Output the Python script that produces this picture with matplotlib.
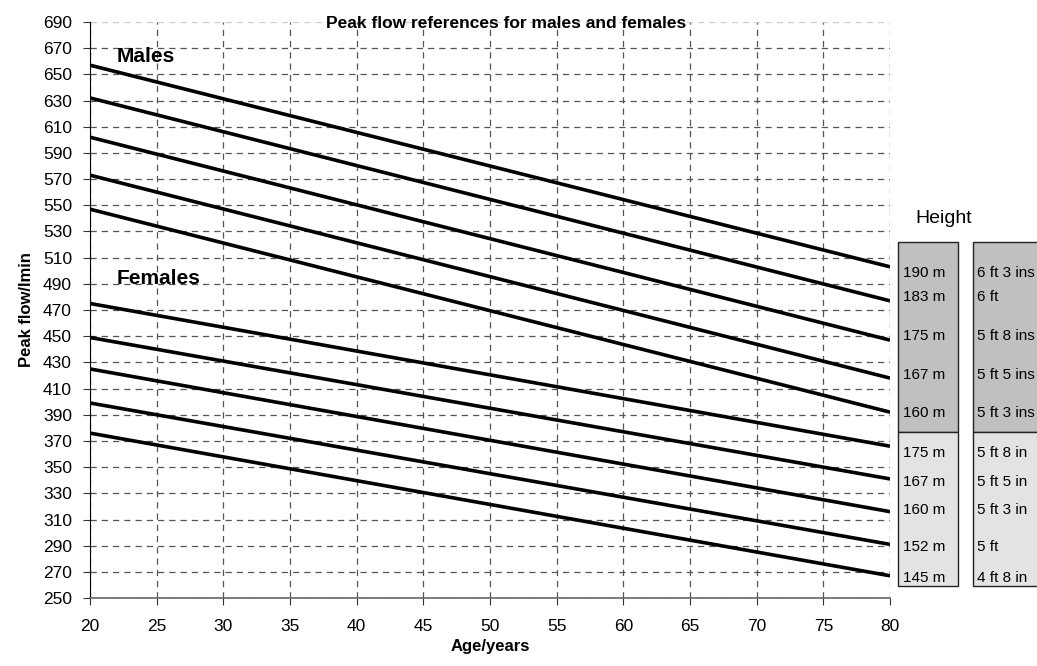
import matplotlib
matplotlib.use("Agg")
import matplotlib.pyplot as plt
from matplotlib.patches import Rectangle

# Age range the reference lines span
ages = [20, 80]

# Peak flow (l/min) at age 20 and at age 80 for each height
male_start = [657, 632, 602, 573, 547]
male_end = [503, 477, 447, 418, 392]
female_start = [475, 449, 425, 399, 376]
female_end = [366, 341, 316, 291, 267]

male_metric = ["190 m", "183 m", "175 m", "167 m", "160 m"]
male_imperial = ["6 ft 3 ins", "6 ft", "5 ft 8 ins", "5 ft 5 ins", "5 ft 3 ins"]
female_metric = ["175 m", "167 m", "160 m", "152 m", "145 m"]
female_imperial = ["5 ft 8 in", "5 ft 5 in", "5 ft 3 in", "5 ft", "4 ft 8 in"]

x_ticks = list(range(20, 81, 5))
y_ticks = list(range(250, 691, 20))

plt.rcParams.update({"font.family": ["Liberation Sans", "DejaVu Sans"]})

fig = plt.figure(figsize=(10.37, 6.66), dpi=100)
ax = fig.add_axes([0.0868, 0.102, 0.7715, 0.865])

for s, e in zip(male_start + female_start, male_end + female_end):
    ax.plot(ages, [s, e], color="black", linewidth=2.6, solid_capstyle="butt", zorder=3)

ax.set_xlim(20, 80)
ax.set_ylim(250, 690)
ax.set_xticks(x_ticks)
ax.set_yticks(y_ticks)
ax.tick_params(labelsize=12.5, length=5, direction="out", color="#333333")
ax.tick_params(axis="x", pad=10)
ax.tick_params(axis="y", pad=8)
ax.grid(True, linestyle=(0, (5, 4)), color="#555555", linewidth=0.9)
ax.get_ygridlines()[-1].set_color("#cccccc")
ax.set_axisbelow(True)

for side in ["top", "right"]:
    ax.spines[side].set_visible(False)
ax.spines["left"].set_color("black")
ax.spines["bottom"].set_color("#666666")
ax.spines["bottom"].set_linewidth(1.2)

ax.set_xlabel("Age/years", fontsize=12, fontweight="bold", labelpad=4)
ax.set_ylabel("Peak flow/lmin", fontsize=12, fontweight="bold", labelpad=6)
ax.set_title("Peak flow references for males and females", fontsize=12.5,
             fontweight="bold", y=0.99, x=0.52, pad=0)

ax.text(22, 664, "Males", fontsize=15, fontweight="bold", va="center")
ax.text(22, 494, "Females", fontsize=15, fontweight="bold", va="center")

# height key boxes to the right of the plot
box_x1, box_w1 = 80.6, 4.5
box_x2, box_w2 = 86.2, 6.0
top, mid, bot = 522, 376.8, 259
for x0, w in [(box_x1, box_w1), (box_x2, box_w2)]:
    ax.add_patch(Rectangle((x0, mid), w, top - mid, facecolor="#c0c0c0",
                           edgecolor="#222222", linewidth=1.0, clip_on=False))
    ax.add_patch(Rectangle((x0, bot), w, mid - bot, facecolor="#e3e3e3",
                           edgecolor="#222222", linewidth=1.0, clip_on=False))

ax.text(84.0, 540, "Height", fontsize=14, ha="center", va="center", clip_on=False)

male_offset = [-5, 3, 3, 2, -1]
female_offset = [-5, -2, 1, -2, -2]
for ends, offs, metric, imperial in [(male_end, male_offset, male_metric, male_imperial),
                                     (female_end, female_offset, female_metric, female_imperial)]:
    for e, o, m, imp in zip(ends, offs, metric, imperial):
        ax.text(box_x1 + 0.35, e + o, m, fontsize=11, va="center", clip_on=False)
        ax.text(box_x2 + 0.35, e + o, imp, fontsize=11, va="center", clip_on=False)

fig.savefig("out.png", dpi=100)
